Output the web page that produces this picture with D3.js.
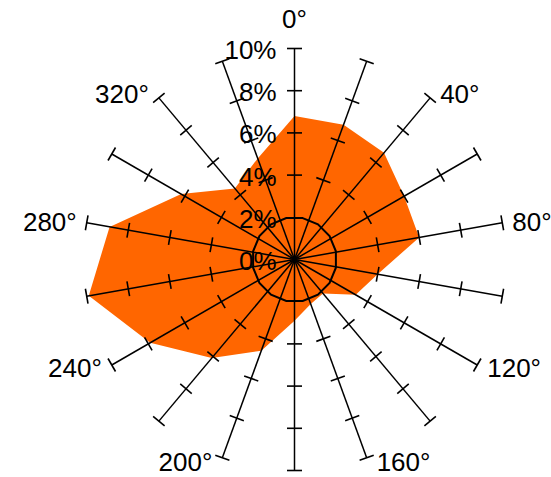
<!DOCTYPE html>
<html>
<head>
<meta charset="utf-8">
<script src="https://cdn.jsdelivr.net/npm/d3@7"></script>
<style>
  html, body { margin: 0; padding: 0; background: #fff; }
  svg { display: block; }
  text { font-family: "Liberation Sans", Arial, sans-serif; fill: #000; }
</style>
</head>
<body>
<svg id="chart" width="551" height="477"></svg>
<script>
// Direction sectors (degrees, clockwise from north) and their share of observations (%)
const bearings = [0, 20, 40, 60, 80, 100, 120, 140, 160, 180, 200, 220, 240, 260, 280, 300, 320, 340];
const share = [6.8, 6.8, 6.6, 6.0, 6.0, 4.0, 3.35, 2.1, 2.25, 2.9, 4.6, 6.1, 7.9, 9.9, 8.9, 6.2, 4.4, 5.1];

// Radial grid values (%) and labelled directions
const radialTicks = [0, 2, 4, 6, 8, 10];
const tickMarks = [4, 6, 8];
const ringValue = 2;
const angleLabels = [0, 40, 80, 120, 160, 200, 240, 280, 320];

const cx = 294.5, cy = 259.5;
const rMax = 211;

const svg = d3.select("#chart");
const g = svg.append("g").attr("transform", `translate(${cx},${cy})`);

const r = d3.scaleLinear().domain([0, 10]).range([0, rMax]);
const toRad = d3.scaleLinear().domain([0, 360]).range([0, 2 * Math.PI]);

// Filled rose polygon
const area = d3.lineRadial()
  .angle(d => toRad(d[0]))
  .radius(d => r(d[1]))
  .curve(d3.curveLinearClosed);

g.append("path")
  .datum(bearings.map((b, i) => [b, share[i]]))
  .attr("d", area)
  .attr("fill", "#ff6600")
  .attr("stroke", "none");

// Spokes
g.selectAll("line.spoke")
  .data(bearings)
  .join("line")
  .attr("class", "spoke")
  .attr("x1", 0).attr("y1", 0)
  .attr("x2", d => d3.pointRadial(toRad(d), r(10))[0])
  .attr("y2", d => d3.pointRadial(toRad(d), r(10))[1])
  .attr("stroke", "#000")
  .attr("stroke-width", 1.5);

// Tick marks and end caps, perpendicular to each spoke
const halfTick = 7.5;
const tickData = [];
bearings.forEach(b => {
  tickMarks.concat([10]).forEach(v => tickData.push({ b, v }));
});
g.selectAll("line.tick")
  .data(tickData)
  .join("line")
  .attr("class", "tick")
  .each(function(d) {
    const a = toRad(d.b);
    const [px, py] = d3.pointRadial(a, r(d.v));
    const ux = Math.cos(a), uy = Math.sin(a);
    d3.select(this)
      .attr("x1", px - ux * halfTick).attr("y1", py - uy * halfTick)
      .attr("x2", px + ux * halfTick).attr("y2", py + uy * halfTick);
  })
  .attr("stroke", "#000")
  .attr("stroke-width", 1.6);

// Reference ring at 2%
const ringSides = 16;
const ringPts = d3.range(ringSides).map(k => [toRad(180 / ringSides + k * 360 / ringSides), r(ringValue)]);
g.append("path")
  .datum(ringPts)
  .attr("d", d3.lineRadial().angle(d => d[0]).radius(d => d[1]).curve(d3.curveLinearClosed))
  .attr("fill", "none")
  .attr("stroke", "#000")
  .attr("stroke-width", 2);

// Radial value labels along the north spoke
g.selectAll("text.rlab")
  .data(radialTicks)
  .join("text")
  .attr("class", "rlab")
  .attr("x", -18)
  .attr("y", d => -r(d) + 1.5)
  .attr("text-anchor", "end")
  .attr("dominant-baseline", "central")
  .attr("font-size", 26)
  .text(d => d + "%");

// Direction labels
g.selectAll("text.alab")
  .data(angleLabels)
  .join("text")
  .attr("class", "alab")
  .each(function(d) {
    const a = toRad(d);
    const [ex, ey] = d3.pointRadial(a, r(10));
    const sel = d3.select(this);
    if (d === 0) {
      sel.attr("x", ex).attr("y", ey - 30).attr("text-anchor", "middle");
    } else {
      const side = d < 180 ? 1 : -1;
      sel.attr("x", ex + side * 10)
        .attr("y", ey - Math.cos(a) * 5)
        .attr("text-anchor", side > 0 ? "start" : "end");
    }
  })
  .attr("dominant-baseline", "central")
  .attr("font-size", 26)
  .text(d => d + "°");
</script>
</body>
</html>
